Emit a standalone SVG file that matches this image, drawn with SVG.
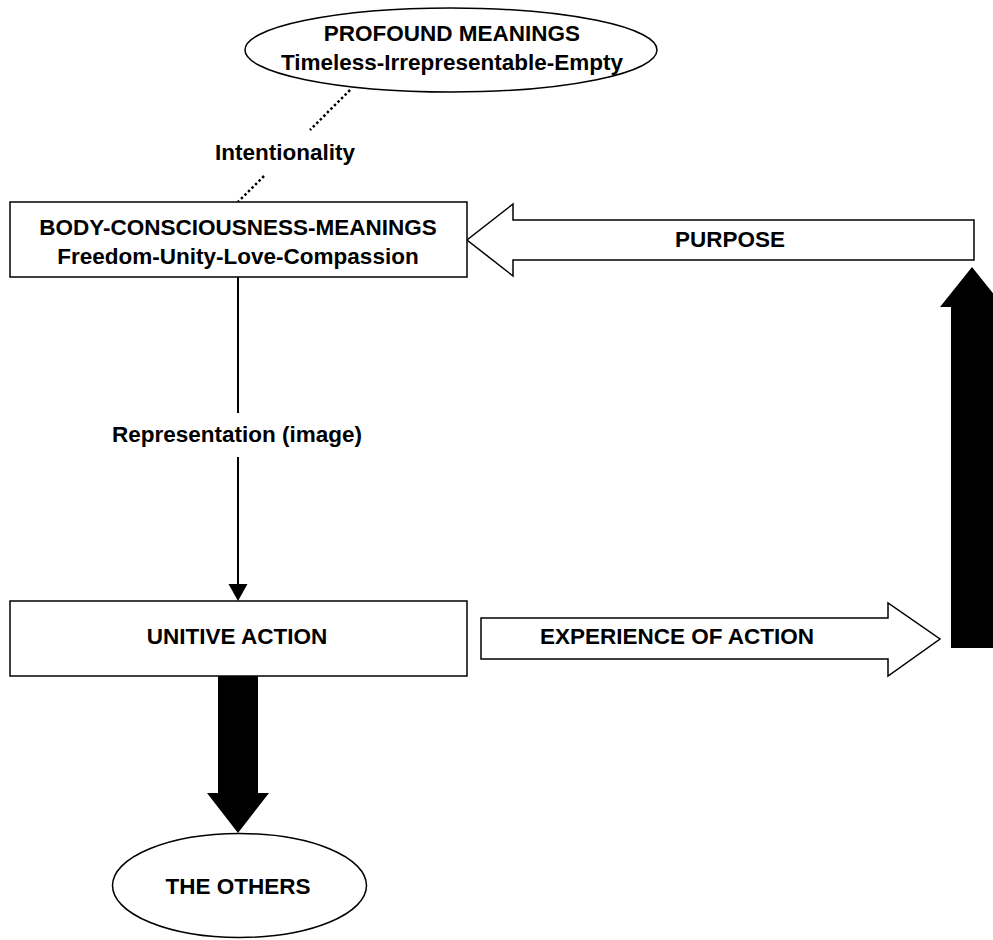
<svg xmlns="http://www.w3.org/2000/svg" width="993" height="940" viewBox="0 0 993 940">
  <style>
    .shape { fill: #ffffff; stroke: #000000; stroke-width: 1.5; }
    .solid { fill: #000000; stroke: none; }
    .lbl { font-family: "Liberation Sans", Arial, Helvetica, sans-serif; font-weight: bold; font-size: 22.5px; fill: #000000; text-anchor: middle; }
    .edge { fill: none; stroke: #000000; stroke-width: 2; }
    .dotted { fill: none; stroke: #000000; stroke-width: 2.5; stroke-dasharray: 2.5 2.5; }
  </style>
  <rect width="993" height="940" fill="#ffffff"/>

  <!-- connectors -->
  <g id="connectors">
    <!-- intentionality link (dotted, broken by its label) -->
    <line class="dotted" x1="350" y1="90" x2="310" y2="130"/>
    <line class="dotted" x1="264" y1="176" x2="238" y2="202"/>
    <text class="lbl" x="285" y="160">Intentionality</text>

    <!-- representation link -->
    <line class="edge" x1="238" y1="277" x2="238" y2="413"/>
    <line class="edge" x1="238" y1="457" x2="238" y2="586"/>
    <path class="solid" d="M228.5,584 L247.5,584 L238,601 Z"/>
    <text class="lbl" x="237" y="442">Representation (image)</text>

    <!-- purpose (hollow block arrow, pointing left) -->
    <g id="purpose">
      <polygon class="shape" points="974,220 513,220 513,204 467,240 513,276 513,260 974,260"/>
      <text class="lbl" x="730" y="247">PURPOSE</text>
    </g>

    <!-- experience of action (hollow block arrow, pointing right) -->
    <g id="experience">
      <polygon class="shape" points="481,618 888,618 888,603 940,639 888,676 888,659 481,659"/>
      <text class="lbl" x="677" y="644">EXPERIENCE OF ACTION</text>
    </g>

    <!-- upward solid arrow on the right -->
    <polygon class="solid" points="951,648 951,307 940,307 972,267 1004,307 993,307 993,648"/>

    <!-- downward solid arrow to the others -->
    <polygon class="solid" points="218,676 258,676 258,793 269,793 238,833 207,793 218,793"/>
  </g>

  <!-- nodes -->
  <g id="profound">
    <ellipse class="shape" cx="451" cy="50" rx="206" ry="42"/>
    <text class="lbl" x="452" y="41">PROFOUND MEANINGS</text>
    <text class="lbl" x="452" y="70">Timeless-Irrepresentable-Empty</text>
  </g>

  <g id="body">
    <rect class="shape" x="10" y="202" width="457" height="75"/>
    <text class="lbl" x="238" y="235">BODY-CONSCIOUSNESS-MEANINGS</text>
    <text class="lbl" x="238" y="264">Freedom-Unity-Love-Compassion</text>
  </g>

  <g id="unitive">
    <rect class="shape" x="10" y="601" width="457" height="75"/>
    <text class="lbl" x="237" y="644">UNITIVE ACTION</text>
  </g>

  <g id="others">
    <ellipse class="shape" cx="239.5" cy="885.5" rx="127" ry="52"/>
    <text class="lbl" x="238" y="894">THE OTHERS</text>
  </g>
</svg>
